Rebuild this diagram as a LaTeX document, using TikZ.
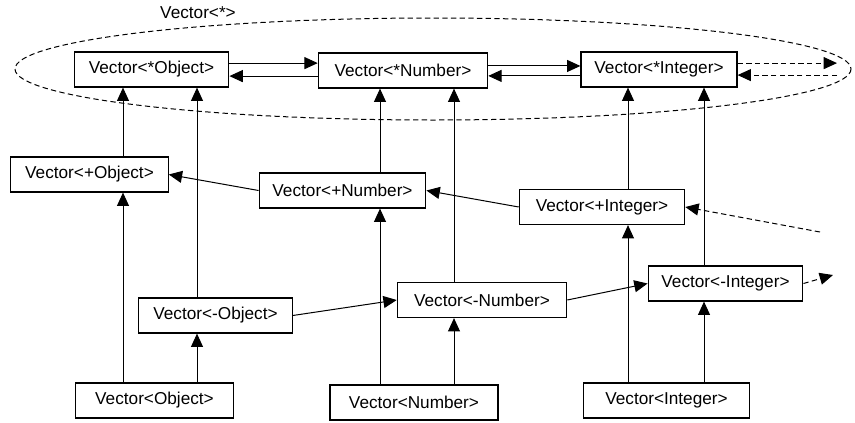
\documentclass[tikz,border=0pt]{standalone}
\usepackage{fontspec}
\setmainfont{Liberation Sans}
\usetikzlibrary{arrows.meta}

\tikzset{every picture/.style={line width=0.75pt}}
\tikzset{
	vecbox/.style={draw, line width=0.9pt, minimum height=26.25pt, inner sep=0pt, font=\fontsize{12.9}{15}\selectfont},
	inh/.style={-{Triangle[length=10pt,width=9pt]}},
	weak/.style={inh, dashed, dash pattern=on 4pt off 2.5pt}
}

\begin{document}
\begin{tikzpicture}[x=0.75pt,y=0.75pt,yscale=-1,xscale=1]
		\useasboundingbox (0,0) rectangle (855,422);

		%the family of all vectors
		\draw [dashed, dash pattern=on 4pt off 2.5pt] (433,69) circle [x radius= 418, y radius= 51];
		\draw (198,13) node [font=\fontsize{12.9}{15}\selectfont] {Vector<*>};

		%star row
		\node [vecbox, minimum width=116pt] (sobj) at (151.5,69.5) {Vector<*Object>};
		\node [vecbox, minimum width=127pt] (snum) at (403,70.5) {Vector<*Number>};
		\node [vecbox, minimum width=117pt] (sint) at (659,69.5) {Vector<*Integer>};
		%plus row
		\node [vecbox, minimum width=118pt] (pobj) at (89.5,174.5) {Vector<+Object>};
		\node [vecbox, minimum width=125pt] (pnum) at (342.5,190.5) {Vector<+Number>};
		\node [vecbox, minimum width=124pt] (pint) at (602,207) {Vector<+Integer>};
		%minus row
		\node [vecbox, minimum width=115pt] (mobj) at (215.5,315.5) {Vector<-Object>};
		\node [vecbox, minimum width=127pt] (mnum) at (482,300) {Vector<-Number>};
		\node [vecbox, minimum width=116pt] (mint) at (725.5,283.5) {Vector<-Integer>};
		%plain row
		\node [vecbox, minimum width=119pt] (obj) at (154.5,400.5) {Vector<Object>};
		\node [vecbox, minimum width=126pt] (num) at (414,402.5) {Vector<Number>};
		\node [vecbox, minimum width=124pt] (int) at (666.5,400.5) {Vector<Integer>};

		%columns for the vertical arrows
		\coordinate (colA) at (123,0);
		\coordinate (colB) at (197,0);
		\coordinate (colC) at (380,0);
		\coordinate (colD) at (454,0);
		\coordinate (colE) at (628,0);
		\coordinate (colF) at (704,0);
		%open ends on the right
		\coordinate (sintR) at (837,69.5);
		\coordinate (pintR) at (820,232);
		\coordinate (mintR) at (833,275);

		\draw [inh] (obj.north -| colA) -- (pobj.south -| colA);
		\draw [inh] (pobj.north -| colA) -- (sobj.south -| colA);
		\draw [inh] (obj.north -| colB) -- (mobj.south -| colB);
		\draw [inh] (mobj.north -| colB) -- (sobj.south -| colB);

		\draw [inh] (num.north -| colC) -- (pnum.south -| colC);
		\draw [inh] (pnum.north -| colC) -- (snum.south -| colC);
		\draw [inh] (num.north -| colD) -- (mnum.south -| colD);
		\draw [inh] (mnum.north -| colD) -- (snum.south -| colD);

		\draw [inh] (int.north -| colE) -- (pint.south -| colE);
		\draw [inh] (pint.north -| colE) -- (sint.south -| colE);
		\draw [inh] (int.north -| colF) -- (mint.south -| colF);
		\draw [inh] (mint.north -| colF) -- (sint.south -| colF);

		%yscale=-1 flips the shifts: minus is up
		\draw [inh] ([yshift=-4.8pt]sobj.east) -- ([yshift=-4.8pt]sobj.east -| snum.west);
		\draw [inh] ([yshift=4.2pt]snum.west) -- ([yshift=4.2pt]snum.west -| sobj.east);
		\draw [inh] ([yshift=-3.4pt]snum.east) -- ([yshift=-3.4pt]snum.east -| sint.west);
		\draw [inh] ([yshift=4.8pt]sint.west) -- ([yshift=4.8pt]sint.west -| snum.east);
		\draw [weak] ([yshift=-4.8pt]sint.east) -- ([yshift=-4.8pt]sintR);
		\draw [weak] ([yshift=4.2pt]sintR) -- ([yshift=4.2pt]sintR -| sint.east);

		\draw [inh] (pnum.west) -- (pobj.east);
		\draw [inh] (pint.west) -- (pnum.east);
		\draw [weak] (pintR) -- (pint.east);

		\draw [inh] (mobj.east) -- (mnum.west);
		\draw [inh] (mnum.east) -- (mint.west);
		\draw [weak] (mint.east) -- (mintR);

		\end{tikzpicture}
\end{document}
